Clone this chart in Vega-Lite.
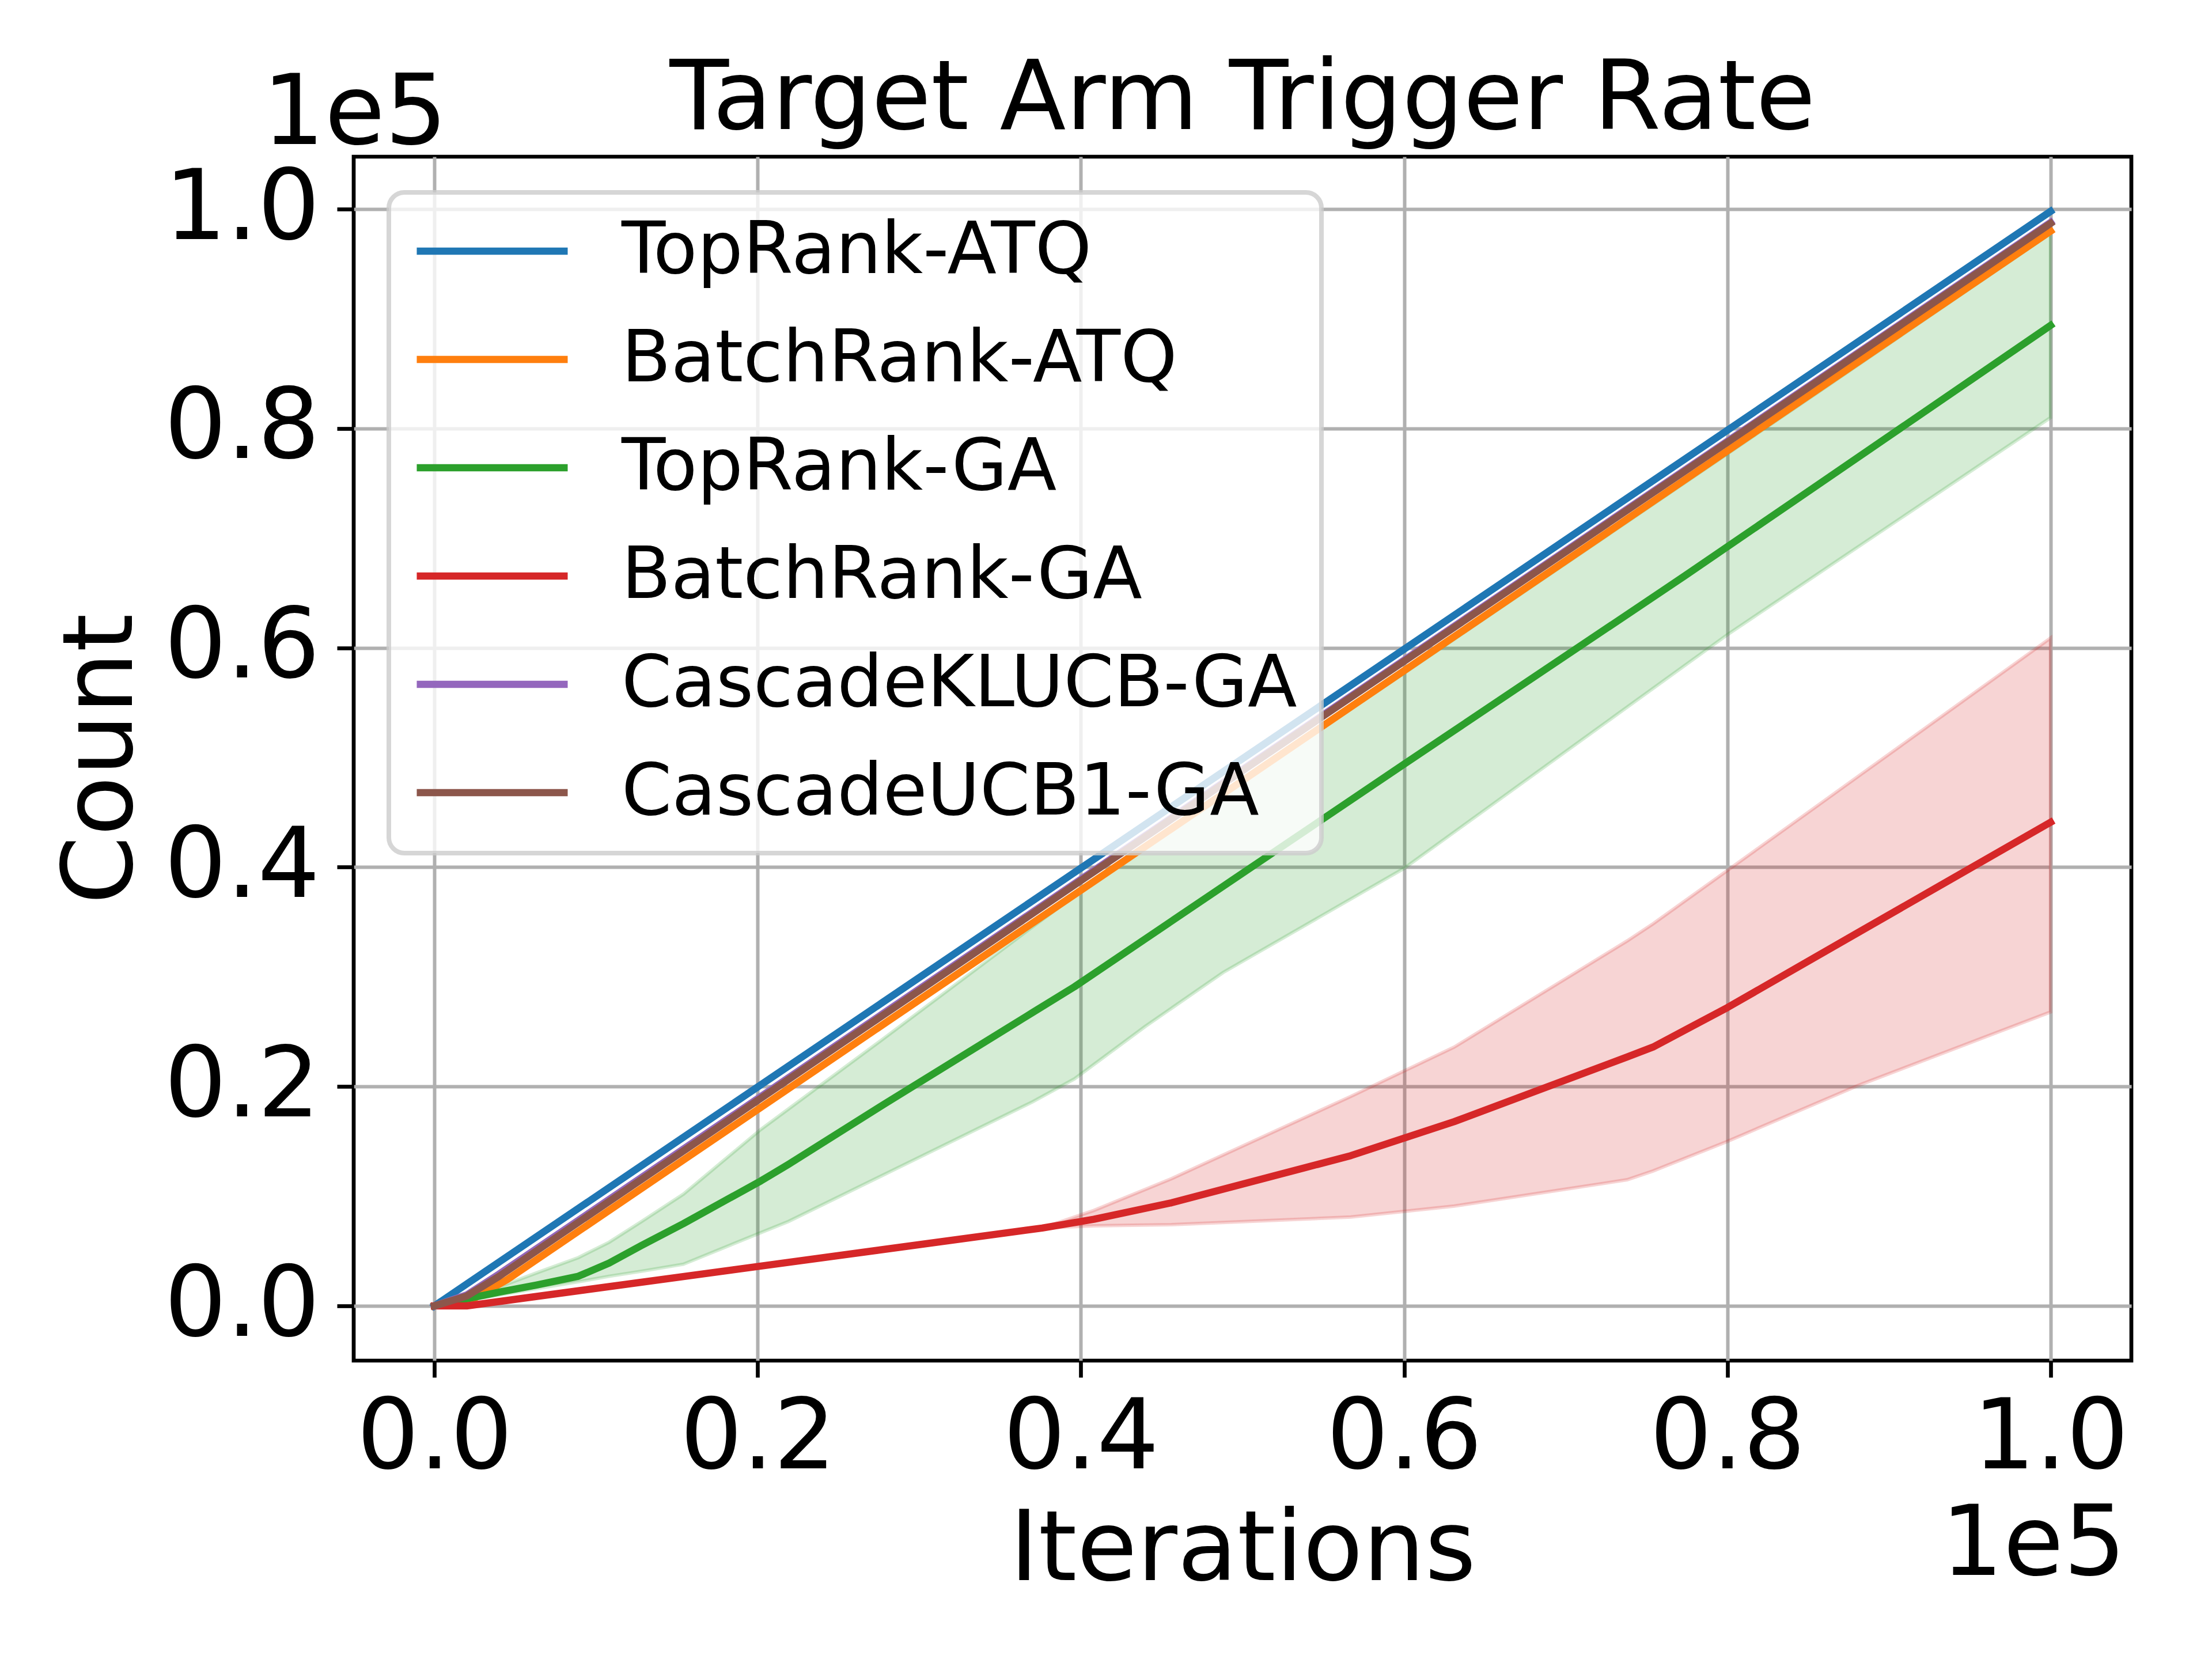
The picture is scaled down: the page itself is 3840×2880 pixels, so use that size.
{
  "$schema": "https://vega.github.io/schema/vega-lite/v6.json",
  "description": "Target arm trigger rate: cumulative count vs iterations, with min/max bands",
  "autosize": {"type": "none"},
  "padding": {"left": 614, "top": 272, "right": 140, "bottom": 518},
  "width": 3086,
  "height": 2090,
  "title": {
    "text": "Target Arm Trigger Rate",
    "font": "DejaVu Sans", "fontSize": 168, "fontWeight": "normal", "color": "black",
    "baseline": "alphabetic", "frame": "group", "anchor": "middle", "offset": -279
  },
  "data": {
    "values": [
      {"series": "TopRank-ATQ", "x": 0, "y": 0},
      {"series": "TopRank-ATQ", "x": 2000, "y": 2000},
      {"series": "TopRank-ATQ", "x": 50000, "y": 49900},
      {"series": "TopRank-ATQ", "x": 100000, "y": 99800},

      {"series": "BatchRank-ATQ", "x": 0, "y": 0},
      {"series": "BatchRank-ATQ", "x": 2000, "y": 300},
      {"series": "BatchRank-ATQ", "x": 4500, "y": 2400},
      {"series": "BatchRank-ATQ", "x": 50000, "y": 47900},
      {"series": "BatchRank-ATQ", "x": 100000, "y": 98000},

      {"series": "TopRank-GA", "x": 0, "y": 0, "lo": 0, "hi": 0},
      {"series": "TopRank-GA", "x": 2000, "y": 650, "lo": 500, "hi": 700},
      {"series": "TopRank-GA", "x": 4000, "y": 1250, "lo": 1000, "hi": 1730},
      {"series": "TopRank-GA", "x": 6300, "y": 1900, "lo": 1570, "hi": 3000},
      {"series": "TopRank-GA", "x": 8900, "y": 2700, "lo": 2200, "hi": 4400},
      {"series": "TopRank-GA", "x": 10800, "y": 3900, "lo": 2700, "hi": 5800},
      {"series": "TopRank-GA", "x": 12800, "y": 5500, "lo": 3160, "hi": 7680},
      {"series": "TopRank-GA", "x": 15400, "y": 7500, "lo": 3800, "hi": 10190},
      {"series": "TopRank-GA", "x": 20200, "y": 11400, "lo": 6680, "hi": 16100},
      {"series": "TopRank-GA", "x": 21900, "y": 12900, "lo": 7700, "hi": 17950},
      {"series": "TopRank-GA", "x": 27900, "y": 18460, "lo": 12030, "hi": 24500},
      {"series": "TopRank-GA", "x": 37000, "y": 26740, "lo": 18600, "hi": 34560},
      {"series": "TopRank-GA", "x": 39600, "y": 29100, "lo": 20700, "hi": 37400},
      {"series": "TopRank-GA", "x": 44000, "y": 33480, "lo": 25500, "hi": 41800},
      {"series": "TopRank-GA", "x": 48800, "y": 38260, "lo": 30400, "hi": 46600},
      {"series": "TopRank-GA", "x": 60000, "y": 49400, "lo": 39900, "hi": 57700},
      {"series": "TopRank-GA", "x": 77400, "y": 66600, "lo": 58430, "hi": 75100},
      {"series": "TopRank-GA", "x": 80000, "y": 69220, "lo": 61200, "hi": 77700},
      {"series": "TopRank-GA", "x": 85800, "y": 75070, "lo": 66940, "hi": 83500},
      {"series": "TopRank-GA", "x": 100000, "y": 89400, "lo": 81000, "hi": 97800},

      {"series": "BatchRank-GA", "x": 0, "y": 0, "lo": 0, "hi": 0},
      {"series": "BatchRank-GA", "x": 2000, "y": 0, "lo": 0, "hi": 0},
      {"series": "BatchRank-GA", "x": 20000, "y": 3590, "lo": 3590, "hi": 3590},
      {"series": "BatchRank-GA", "x": 37600, "y": 7100, "lo": 7100, "hi": 7100},
      {"series": "BatchRank-GA", "x": 40800, "y": 7900, "lo": 7300, "hi": 8700},
      {"series": "BatchRank-GA", "x": 45600, "y": 9400, "lo": 7400, "hi": 11600},
      {"series": "BatchRank-GA", "x": 56700, "y": 13700, "lo": 8100, "hi": 19100},
      {"series": "BatchRank-GA", "x": 63100, "y": 16800, "lo": 9100, "hi": 23600},
      {"series": "BatchRank-GA", "x": 73800, "y": 22700, "lo": 11500, "hi": 33280},
      {"series": "BatchRank-GA", "x": 75400, "y": 23600, "lo": 12300, "hi": 34840},
      {"series": "BatchRank-GA", "x": 80000, "y": 27200, "lo": 15000, "hi": 39700},
      {"series": "BatchRank-GA", "x": 88100, "y": 34050, "lo": 20100, "hi": 48290},
      {"series": "BatchRank-GA", "x": 100000, "y": 44100, "lo": 26800, "hi": 60900},

      {"series": "CascadeKLUCB-GA", "x": 0, "y": 0},
      {"series": "CascadeKLUCB-GA", "x": 2000, "y": 1000},
      {"series": "CascadeKLUCB-GA", "x": 4000, "y": 2900},
      {"series": "CascadeKLUCB-GA", "x": 50000, "y": 48900},
      {"series": "CascadeKLUCB-GA", "x": 100000, "y": 98800},

      {"series": "CascadeUCB1-GA", "x": 0, "y": 0},
      {"series": "CascadeUCB1-GA", "x": 2000, "y": 900},
      {"series": "CascadeUCB1-GA", "x": 4000, "y": 2700},
      {"series": "CascadeUCB1-GA", "x": 50000, "y": 48800},
      {"series": "CascadeUCB1-GA", "x": 100000, "y": 98700}
    ]
  },
  "resolve": {"axis": {"x": "independent", "y": "independent"}},
  "layer": [
    {
      "transform": [{"filter": "isValid(datum.lo)"}],
      "mark": {"type": "area", "fillOpacity": 0.2, "strokeOpacity": 0.2, "strokeWidth": 6},
      "encoding": {
        "x": {
          "field": "x", "type": "quantitative",
          "scale": {"domain": [-5000, 105000], "nice": false, "zero": false},
          "axis": {
            "orient": "bottom",
            "values": [0, 20000, 40000, 60000, 80000, 100000],
            "labelExpr": "format(datum.value / 100000, '.1f')",
            "labelPadding": 23, "grid": true,
            "title": "Iterations", "titleX": 1543, "titleY": 380,
            "titleAlign": "center", "titleBaseline": "alphabetic", "titleAngle": 0
          }
        },
        "y": {
          "field": "lo", "type": "quantitative",
          "scale": {"domain": [-4990, 104790], "nice": false, "zero": false},
          "axis": {
            "orient": "left",
            "values": [0, 20000, 40000, 60000, 80000, 100000],
            "labelExpr": "format(datum.value / 100000, '.1f')",
            "labelPadding": 30, "grid": true,
            "title": "Count", "titleX": -386, "titleY": 1045, "titleAngle": -90,
            "titleAlign": "center", "titleBaseline": "alphabetic"
          }
        },
        "y2": {"field": "hi"},
        "fill": {
          "field": "series", "type": "nominal", "legend": null,
          "scale": {
            "domain": ["TopRank-GA", "BatchRank-GA"],
            "range": ["#2ca02c", "#d62728"]
          }
        },
        "stroke": {
          "field": "series", "type": "nominal", "legend": null,
          "scale": {
            "domain": ["TopRank-GA", "BatchRank-GA"],
            "range": ["#2ca02c", "#d62728"]
          }
        }
      }
    },
    {
      "mark": {"type": "line", "strokeWidth": 12.5, "strokeCap": "square", "strokeJoin": "round"},
      "encoding": {
        "x": {
          "field": "x", "type": "quantitative",
          "axis": {
            "orient": "bottom", "labels": false, "ticks": false, "grid": false, "domain": false,
            "title": "1e5", "titleX": 3076, "titleY": 371, "titleAngle": 0,
            "titleAlign": "right", "titleBaseline": "alphabetic"
          }
        },
        "y": {
          "field": "y", "type": "quantitative",
          "axis": {
            "orient": "left", "labels": false, "ticks": false, "grid": false, "domain": false,
            "title": "1e5", "titleX": -159, "titleY": -23, "titleAngle": 0,
            "titleAlign": "left", "titleBaseline": "alphabetic"
          }
        },
        "color": {
          "field": "series", "type": "nominal",
          "scale": {
            "domain": ["TopRank-ATQ", "BatchRank-ATQ", "TopRank-GA", "BatchRank-GA", "CascadeKLUCB-GA", "CascadeUCB1-GA"],
            "range": ["#1f77b4", "#ff7f0e", "#2ca02c", "#d62728", "#9467bd", "#8c564b"]
          },
          "legend": {
            "title": null, "orient": "none", "legendX": 61, "legendY": 62,
            "padding": 42, "clipHeight": 120, "rowPadding": 63, "labelOffset": 87,
            "symbolType": "stroke", "symbolSize": 68644, "symbolStrokeWidth": 12.5,
            "fillColor": "rgba(255,255,255,0.8)", "strokeColor": "rgba(204,204,204,0.8)",
            "cornerRadius": 27, "labelLimit": 3000
          }
        }
      }
    }
  ],
  "config": {
    "font": "DejaVu Sans",
    "view": {"stroke": "black", "strokeWidth": 6.7},
    "axis": {
      "labelFont": "DejaVu Sans", "labelFontSize": 170, "labelColor": "black", "labelLimit": 2000,
      "titleFont": "DejaVu Sans", "titleFontSize": 170, "titleFontWeight": "normal", "titleColor": "black",
      "titleLimit": 4000,
      "tickColor": "black", "tickWidth": 6.7, "tickSize": 29,
      "gridColor": "#b0b0b0", "gridWidth": 6, "gridOpacity": 1,
      "domain": false, "labelFlush": false, "labelOverlap": false
    },
    "legend": {
      "labelFont": "DejaVu Sans", "labelFontSize": 125, "labelColor": "black",
      "strokeWidth": 8
    }
  }
}
